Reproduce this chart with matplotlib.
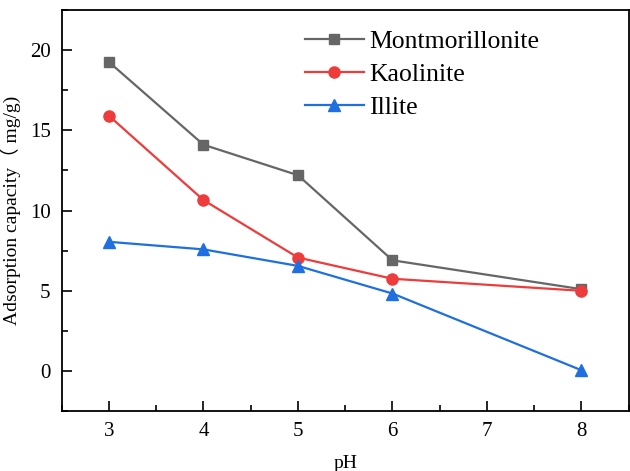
import matplotlib
matplotlib.use("Agg")
import matplotlib.pyplot as plt
from matplotlib.ticker import MultipleLocator

plt.rcParams['font.family'] = ['Liberation Serif', 'Noto Sans CJK SC']

ph = [3, 4, 5, 6, 8]
montmorillonite = [19.25, 14.1, 12.2, 6.9, 5.1]
kaolinite = [15.9, 10.65, 7.07, 5.75, 5.0]
illite = [8.05, 7.58, 6.55, 4.83, 0.05]

fig = plt.figure(figsize=(6.3, 4.71), dpi=100)
ax = fig.add_axes([0.098, 0.127, 0.9, 0.852])

ax.plot(ph, montmorillonite, color='#666666', marker='s', markersize=7, lw=1.6, label='Montmorillonite')
ax.plot(ph, kaolinite, color='#ee3b3b', marker='o', markersize=8, lw=1.6, label='Kaolinite')
ax.plot(ph, illite, color='#1f6fe0', marker='^', markersize=9, lw=1.6, label='Illite')

ax.set_xlim(2.5, 8.5)
ax.set_ylim(-2.5, 22.5)
ax.xaxis.set_major_locator(MultipleLocator(1))
ax.xaxis.set_minor_locator(MultipleLocator(0.5))
ax.yaxis.set_major_locator(MultipleLocator(5))
ax.yaxis.set_minor_locator(MultipleLocator(2.5))
ax.tick_params(which='both', direction='in', labelsize=15, width=1.2)
ax.tick_params(which='major', length=7, pad=8)
ax.tick_params(which='minor', length=4)
for s in ax.spines.values():
    s.set_linewidth(1.3)

ax.set_xlabel('pH', fontsize=14, labelpad=10)
ax.set_ylabel('Adsorption capacity（ mg/g)', fontsize=14, labelpad=6)

ax.legend(loc='upper right', bbox_to_anchor=(0.86, 0.975), frameon=False, fontsize=18.5,
          handlelength=2.3, handletextpad=0.2, labelspacing=0.38, borderaxespad=0)

fig.savefig('out.png', dpi=100)
